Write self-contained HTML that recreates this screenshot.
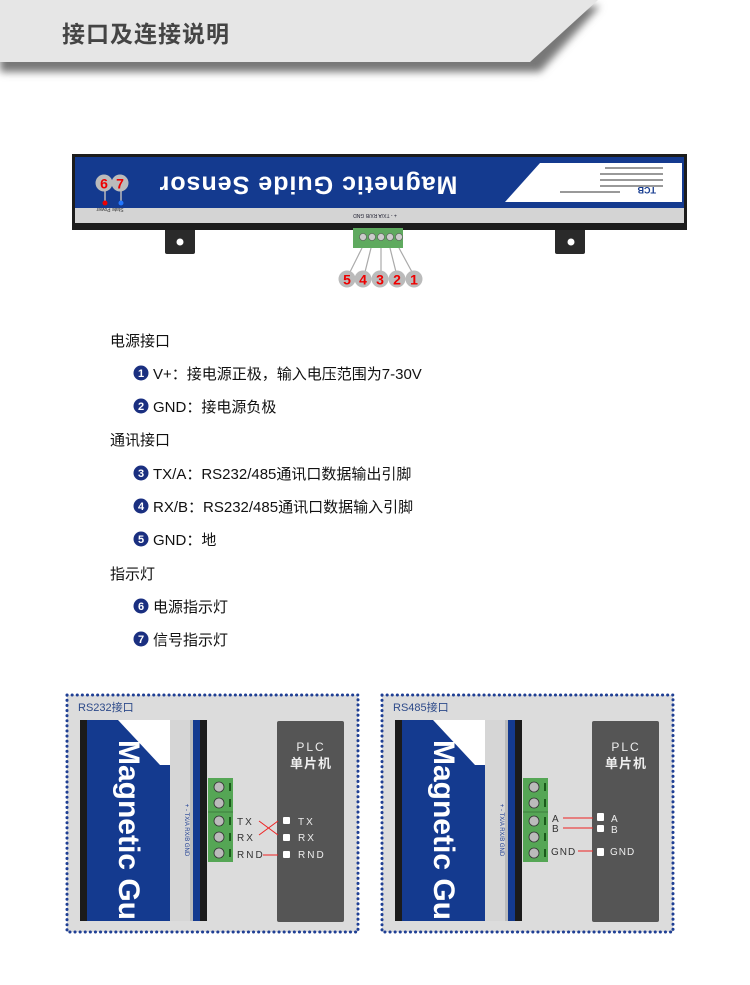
<!DOCTYPE html>
<html><head><meta charset="utf-8"><style>
html,body{margin:0;padding:0;background:#fff;}
svg{display:block;font-family:"Liberation Sans","Noto Sans CJK SC",sans-serif;}
</style></head><body>
<svg width="750" height="985" viewBox="0 0 750 985" xmlns="http://www.w3.org/2000/svg">
<defs>
<filter id="blur" x="-10%" y="-50%" width="120%" height="200%"><feGaussianBlur stdDeviation="4"/></filter>
<g id="bullet"></g>
</defs>
<!-- header -->
<polygon points="0,6 600,6 540,72 0,72" fill="#777" filter="url(#blur)"/>
<polygon points="0,0 598,0 530,62 0,62" fill="#e6e6e6"/>
<text x="62" y="42" font-size="23" font-weight="bold" fill="#444" font-family="'Noto Sans CJK SC',sans-serif" letter-spacing="1">接口及连接说明</text>

<!-- main device -->
<rect x="165" y="226" width="30" height="28" rx="2" fill="#2a2a2a"/>
<circle cx="180" cy="242" r="3.5" fill="#fff"/>
<rect x="555" y="226" width="30" height="28" rx="2" fill="#2a2a2a"/>
<circle cx="571" cy="242" r="3.5" fill="#fff"/>
<rect x="72" y="154" width="615" height="76" fill="#1c1c1c"/>
<rect x="75" y="157" width="609" height="51" fill="#143a8f"/>
<rect x="75" y="208" width="609" height="15" fill="#d4d4d4"/>
<polygon points="540,163 682,163 682,202 505,202" fill="#fff"/>
<text x="640" y="197" font-size="9" font-weight="bold" fill="#143a8f" transform="rotate(180 648 192)">TCB</text>
<g fill="#999"><rect x="605" y="167" width="58" height="2"/><rect x="600" y="173" width="63" height="2"/><rect x="600" y="179" width="63" height="2"/><rect x="600" y="185" width="63" height="2"/><rect x="560" y="191" width="60" height="2"/></g>
<text x="308" y="183" font-size="25" font-weight="bold" fill="#fff" text-anchor="middle" dominant-baseline="middle" transform="rotate(180 308 183)" letter-spacing="1">Magnetic  Guide  Sensor</text>
<text x="375" y="218" font-size="5" fill="#223" text-anchor="middle" transform="rotate(180 375 216)">+  -  TX/A RX/B GND</text>
<text x="110" y="212" font-size="5" fill="#333" text-anchor="middle" transform="rotate(180 110 210)">State  Power</text>
<!-- LEDs -->
<line x1="105" y1="190" x2="105" y2="202" stroke="#bbb" stroke-width="1.5"/>
<line x1="121" y1="190" x2="121" y2="202" stroke="#bbb" stroke-width="1.5"/>
<circle cx="105" cy="203" r="2.5" fill="#e00"/>
<circle cx="121" cy="203" r="2.5" fill="#27f"/>
<circle cx="104" cy="183" r="8.5" fill="#bbb"/><text x="104" y="188.5" font-size="14" font-weight="bold" fill="#e00" text-anchor="middle">6</text>
<circle cx="120" cy="183" r="8.5" fill="#bbb"/><text x="120" y="188.5" font-size="14" font-weight="bold" fill="#e00" text-anchor="middle">7</text>
<!-- terminal -->
<rect x="353" y="228" width="50" height="20" fill="#5faa5f"/>
<g fill="#ccc" stroke="#555" stroke-width="0.6"><circle cx="363" cy="237" r="3.5"/><circle cx="372" cy="237" r="3.5"/><circle cx="381" cy="237" r="3.5"/><circle cx="390" cy="237" r="3.5"/><circle cx="399" cy="237" r="3.5"/></g>
<g stroke="#aaa" stroke-width="1.2"><line x1="362" y1="248" x2="350" y2="272"/><line x1="371" y1="248" x2="365" y2="272"/><line x1="381" y1="248" x2="381" y2="272"/><line x1="390" y1="248" x2="396" y2="272"/><line x1="399" y1="248" x2="412" y2="272"/></g>
<g fill="#bbb"><circle cx="347" cy="279" r="8.5"/><circle cx="363" cy="279" r="8.5"/><circle cx="380" cy="279" r="8.5"/><circle cx="397" cy="279" r="8.5"/><circle cx="414" cy="279" r="8.5"/></g>
<g font-size="14" font-weight="bold" fill="#e00" text-anchor="middle"><text x="347" y="284.5">5</text><text x="363" y="284.5">4</text><text x="380" y="284.5">3</text><text x="397" y="284.5">2</text><text x="414" y="284.5">1</text></g>

<!-- text list -->
<g font-size="15" fill="#111">
<text x="110" y="346">电源接口</text>
<text x="153" y="379">V+：接电源正极，输入电压范围为7-30V</text>
<text x="153" y="412">GND：接电源负极</text>
<text x="110" y="445">通讯接口</text>
<text x="153" y="479">TX/A：RS232/485通讯口数据输出引脚</text>
<text x="153" y="512">RX/B：RS232/485通讯口数据输入引脚</text>
<text x="153" y="545">GND：地</text>
<text x="110" y="579">指示灯</text>
<text x="153" y="612">电源指示灯</text>
<text x="153" y="645">信号指示灯</text>
</g>
<g fill="#1a2f80"><circle cx="141" cy="373" r="7.5"/><circle cx="141" cy="406" r="7.5"/><circle cx="141" cy="473" r="7.5"/><circle cx="141" cy="506" r="7.5"/><circle cx="141" cy="539" r="7.5"/><circle cx="141" cy="606" r="7.5"/><circle cx="141" cy="639" r="7.5"/></g>
<g font-size="11" font-weight="bold" fill="#fff" text-anchor="middle"><text x="141" y="377">1</text><text x="141" y="410">2</text><text x="141" y="477">3</text><text x="141" y="510">4</text><text x="141" y="543">5</text><text x="141" y="610">6</text><text x="141" y="643">7</text></g>

<!-- panels -->
<g id="p1">
<rect x="67" y="695" width="291" height="237" fill="#dcdcdc" stroke="#1f3f94" stroke-width="3" stroke-dasharray="0.1 5" stroke-linecap="round"/>
<rect x="80" y="720" width="127" height="201" fill="#1b1b1b"/>
<rect x="87" y="720" width="83" height="201" fill="#143a8f"/>
<polygon points="118,720 170,720 170,765 160,765" fill="#fff"/>
<rect x="170" y="720" width="20" height="201" fill="#d6d6d6"/>
<rect x="190" y="720" width="3" height="201" fill="#bbb"/>
<rect x="193" y="720" width="7" height="201" fill="#143a8f"/>
<text x="127" y="830" font-size="30" font-weight="bold" fill="#fff" text-anchor="middle" dominant-baseline="middle" transform="rotate(90 127 830)">Magnetic Gu</text>
<text x="185" y="830" font-size="6" fill="#1f3f94" text-anchor="middle" transform="rotate(90 185 830)">+   -   TX/A RX/B GND</text>
<rect x="208" y="778" width="25" height="84" fill="#55a655"/>
<line x1="208" y1="812" x2="233" y2="812" stroke="#3d7f3d"/>
<g fill="#bbb" stroke="#333" stroke-width="0.8"><circle cx="219" cy="787" r="5"/><circle cx="219" cy="803" r="5"/><circle cx="219" cy="821" r="5"/><circle cx="219" cy="837" r="5"/><circle cx="219" cy="853" r="5"/></g>
<g fill="#1a5a1a"><rect x="229" y="783" width="2" height="8"/><rect x="229" y="799" width="2" height="8"/><rect x="229" y="817" width="2" height="8"/><rect x="229" y="833" width="2" height="8"/><rect x="229" y="849" width="2" height="8"/></g>
<rect x="277" y="721" width="67" height="201" rx="2" fill="#555"/>
<text x="311" y="751" font-size="12" fill="#eee" text-anchor="middle" letter-spacing="2">PLC</text>
<text x="311" y="768" font-size="13" font-weight="bold" fill="#eee" text-anchor="middle" letter-spacing="1">单片机</text>
</g>
<text x="78" y="711" font-size="11" fill="#2d4a8a">RS232接口</text>
<g font-size="10" fill="#333" letter-spacing="2"><text x="237" y="825">TX</text><text x="237" y="841">RX</text><text x="237" y="858">RND</text></g>
<g stroke="#e22" stroke-width="1"><line x1="259" y1="821" x2="278" y2="835"/><line x1="259" y1="835" x2="278" y2="821"/><line x1="263" y1="855" x2="278" y2="855"/></g>
<g fill="#fff"><rect x="283" y="817" width="7" height="7" rx="1"/><rect x="283" y="834" width="7" height="7" rx="1"/><rect x="283" y="851" width="7" height="7" rx="1"/></g>
<g font-size="10" fill="#eee" letter-spacing="2"><text x="298" y="825">TX</text><text x="298" y="841">RX</text><text x="298" y="858">RND</text></g>

<use href="#p1" x="315" y="0"/>
<text x="393" y="711" font-size="11" fill="#2d4a8a">RS485接口</text>
<g font-size="10" fill="#333" letter-spacing="1"><text x="552" y="822">A</text><text x="552" y="832">B</text><text x="551" y="855">GND</text></g>
<g stroke="#e22" stroke-width="1"><line x1="563" y1="818" x2="593" y2="818"/><line x1="563" y1="828" x2="593" y2="828"/><line x1="578" y1="851" x2="593" y2="851"/></g>
<g fill="#fff"><rect x="597" y="813" width="7" height="8" rx="1"/><rect x="597" y="825" width="7" height="7" rx="1"/><rect x="597" y="848" width="7" height="8" rx="1"/></g>
<g font-size="10" fill="#eee" letter-spacing="1"><text x="611" y="822">A</text><text x="611" y="833">B</text><text x="610" y="855">GND</text></g>
</svg>
</body></html>
